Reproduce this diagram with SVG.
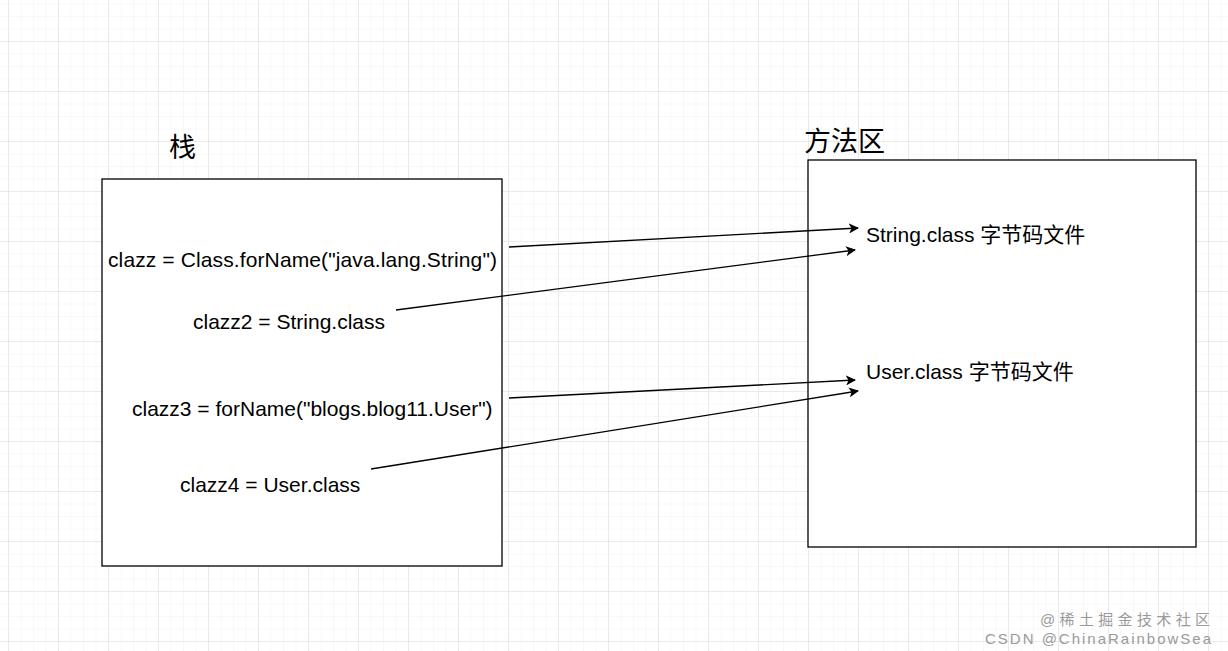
<svg xmlns="http://www.w3.org/2000/svg" width="1228" height="651" viewBox="0 0 1228 651">
<defs>
<pattern id="minor" x="8" y="16" width="12.5" height="12.5" patternUnits="userSpaceOnUse"><path d="M0 0H12.5M0 0V12.5" fill="none" stroke="#f1f1f1" stroke-width="1"/></pattern>
<pattern id="major" x="8" y="41" width="50" height="50" patternUnits="userSpaceOnUse"><path d="M0 0H50M0 0V50" fill="none" stroke="#dcdcdc" stroke-width="1"/></pattern>
<marker id="arr" viewBox="0 0 10 10" refX="9" refY="5" markerWidth="10" markerHeight="10" markerUnits="userSpaceOnUse" orient="auto"><path d="M0 0L10 5L0 10L2.5 5Z" fill="#000"/></marker>
<style>
text{font-family:"Liberation Sans","Noto Sans CJK SC",sans-serif;font-size:21px;fill:#000}
.t{font-size:27px}
.box{fill:#fff;stroke:#000;stroke-width:1.3}
.c line{stroke:#000;stroke-width:1.3;marker-end:url(#arr)}
.wm{font-size:15px;fill:#9a9a9a}
</style>
</defs>
<rect width="1228" height="651" fill="#fff"/>
<rect width="1228" height="651" fill="url(#minor)"/>
<rect width="1228" height="651" fill="url(#major)"/>
<text class="t" x="169" y="157">栈</text>
<text class="t" x="804" y="151">方法区</text>
<g id="stack"><rect class="box" x="102" y="179" width="400" height="387"/>
<text x="108" y="267" textLength="389">clazz = Class.forName("java.lang.String")</text>
<text x="193" y="329">clazz2 = String.class</text>
<text x="132" y="416">clazz3 = forName("blogs.blog11.User")</text>
<text x="180" y="492">clazz4 = User.class</text></g>
<g id="method"><rect class="box" x="808" y="160" width="388" height="387"/>
<text x="866" y="242">String.class 字节码文件</text>
<text x="866" y="379">User.class 字节码文件</text></g>
<g class="c" id="connectors">
<line x1="509" y1="247" x2="858" y2="228"/>
<line x1="396" y1="310" x2="855" y2="250"/>
<line x1="509" y1="398" x2="855" y2="380"/>
<line x1="371" y1="469" x2="858" y2="391"/>
</g>
<text class="wm" x="1040" y="625" textLength="170">@稀土掘金技术社区</text>
<text class="wm" x="985" y="644" textLength="226">CSDN @ChinaRainbowSea</text>
</svg>
